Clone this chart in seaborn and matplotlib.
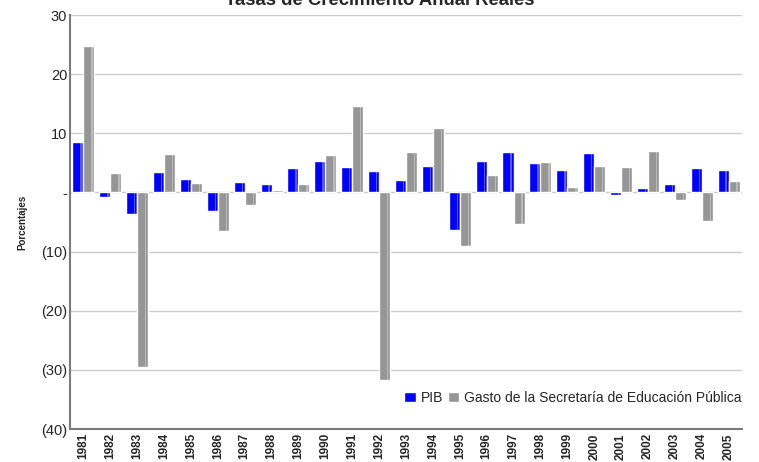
import pandas as pd
import matplotlib.pyplot as plt
import matplotlib.ticker as mticker
from matplotlib.patches import Rectangle
import seaborn as sns

years = [str(y) for y in range(1981, 2006)]
pib = [8.5, -0.7, -3.7, 3.5, 2.2, -3.2, 1.8, 1.4, 4.2, 5.3, 4.35, 3.7, 2.1,
       4.5, -6.4, 5.3, 6.9, 5.0, 3.85, 6.65, -0.4, 0.8, 1.45, 4.1, 3.85]
gasto = [24.7, 3.35, -29.5, 6.5, 1.6, -6.6, -2.1, 0.45, 1.4, 6.3, 14.6, -31.7, 6.9,
         10.9, -9.1, 3.0, -5.3, 5.2, 0.85, 4.5, 4.35, 7.0, -1.3, -4.85, 1.9]
series_names = ['PIB', 'Gasto de la Secretaría de Educación Pública']
colors = ['#0000ff', '#969696']

df = pd.DataFrame({'Año': years * 2,
                   'valor': pib + gasto,
                   'serie': [series_names[0]] * len(years) + [series_names[1]] * len(years)})

sns.set_style('white')
plt.rcParams['font.family'] = ['Liberation Sans', 'DejaVu Sans']

fig = plt.figure(figsize=(7.59, 4.62), dpi=100)
ax = fig.add_axes([0.0922, 0.0714, 0.8854, 0.8961])

sns.barplot(data=df, x='Año', y='valor', hue='serie', palette=colors,
            width=0.82, saturation=1, ax=ax, zorder=3)

# little highlight stripe on each bar to get the cylinder look
for p in list(ax.patches):
    if p.get_width() == 0 or p.get_height() == 0:
        continue
    x0, y0 = p.get_x(), p.get_y()
    w, h = p.get_width(), p.get_height()
    ax.add_patch(Rectangle((x0 + w * 0.72, y0), w * 0.12, h,
                           facecolor='white', alpha=0.35, lw=0, zorder=4))

ax.set_ylim(-40, 30)
ax.set_xlim(-0.5, len(years) - 0.5)
ax.yaxis.set_major_locator(mticker.MultipleLocator(10))

def fmt(v, pos):
    if abs(v) < 1e-9:
        return '-'
    if v < 0:
        return '(%d)' % abs(v)
    return '%d' % v

ax.yaxis.set_major_formatter(mticker.FuncFormatter(fmt))
ax.grid(axis='y', color='#cccccc', lw=1, zorder=0)
ax.tick_params(axis='y', labelsize=10.5, length=0, pad=2)
ax.tick_params(axis='x', labelsize=8.5, length=0, pad=3, rotation=90)
for lbl in ax.get_xticklabels():
    lbl.set_fontweight('bold')

for s in ['top', 'right']:
    ax.spines[s].set_visible(False)
for s in ['left', 'bottom']:
    ax.spines[s].set_color('#7a7a7a')
    ax.spines[s].set_linewidth(1.5)

ax.set_xlabel('')
ax.set_ylabel('Porcentajes', fontsize=7, fontweight='bold', labelpad=10)

ax.legend(loc='center right', bbox_to_anchor=(1.008, 0.075), frameon=False,
          fontsize=10, handlelength=0.8, handleheight=0.8, handletextpad=0.35,
          columnspacing=0.4, ncol=2, borderaxespad=0)

fig.text(0.5, 0.989, 'Tasas de Crecimiento Anual Reales', ha='center', va='baseline',
         fontsize=13.3, fontweight='bold')

fig.savefig('out.png', dpi=100)
